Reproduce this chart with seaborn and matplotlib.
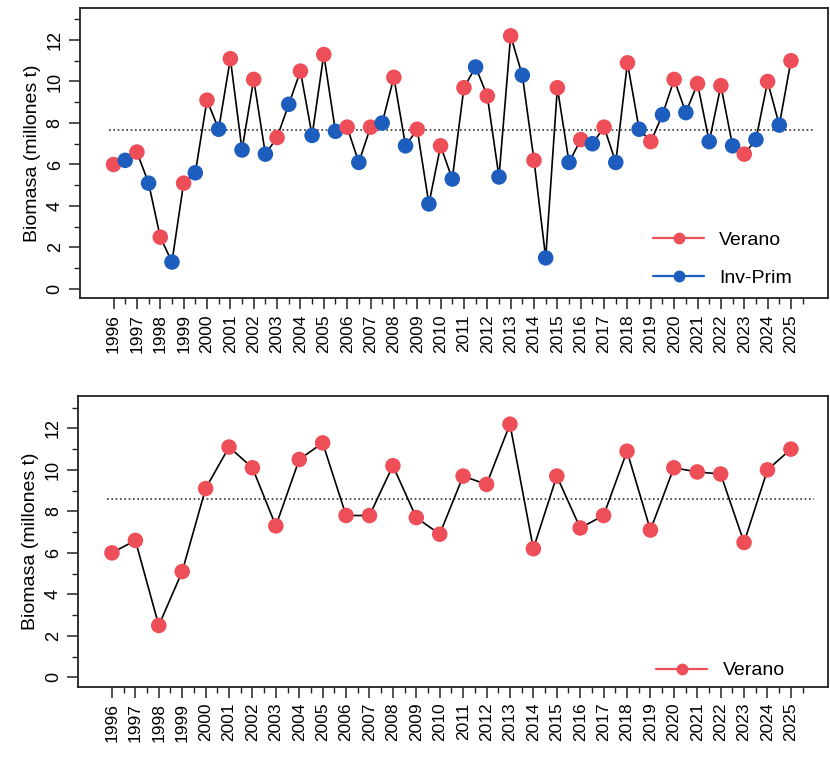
import numpy as np
import pandas as pd

import seaborn as sns
import matplotlib.pyplot as plt
from matplotlib.lines import Line2D

# biomasa por crucero (millones t)
years = list(range(1996, 2026))
verano = [6.0, 6.6, 2.5, 5.1, 9.1, 11.1, 10.1, 7.3, 10.5, 11.3,
          7.8, 7.8, 10.2, 7.7, 6.9, 9.7, 9.3, 12.2, 6.2, 9.7,
          7.2, 7.8, 10.9, 7.1, 10.1, 9.9, 9.8, 6.5, 10.0, 11.0]
# inv-prim sits half a year after each verano, 1996-2024
inv_prim = [6.2, 5.1, 1.3, 5.6, 7.7, 6.7, 6.5, 8.9, 7.4, 7.6,
            6.1, 8.0, 6.9, 4.1, 5.3, 10.7, 5.4, 10.3, 1.5, 6.1,
            7.0, 6.1, 7.7, 8.4, 8.5, 7.1, 6.9, 7.2, 7.9]

red = "#EE4E57"
blue = "#1C5DBE"

df_v = pd.DataFrame({"t": years, "b": verano, "crucero": "Verano"})
df_i = pd.DataFrame({"t": [y + 0.5 for y in years[:len(inv_prim)]], "b": inv_prim, "crucero": "Inv-Prim"})
df_all = pd.concat([df_v, df_i]).sort_values("t").reset_index(drop=True)

sns.set_style("ticks")
plt.rcParams["font.family"] = ["Liberation Sans", "DejaVu Sans"]
plt.rcParams["text.color"] = "black"
plt.rcParams["xtick.labelcolor"] = "black"
plt.rcParams["ytick.labelcolor"] = "black"
plt.rcParams["axes.labelcolor"] = "black"

fig = plt.figure(figsize=(8.3, 7.63), dpi=100)
ax1 = fig.add_axes([0.096, 0.609, 0.902, 0.381])
ax2 = fig.add_axes([0.094, 0.100, 0.904, 0.381])


def style(ax):
    ax.set_xlim(1994.55, 2026.6)
    ax.set_ylim(-0.45, 13.56)
    ax.set_xticks(years)
    ax.set_xticklabels([str(y) for y in years], rotation=90, fontsize=12.5)
    ax.set_xticks([y + 0.5 for y in years], minor=True)
    ax.set_yticks(range(0, 13, 2))
    ax.set_yticklabels([str(v) for v in range(0, 13, 2)], rotation=90, va="center", fontsize=13)
    ax.set_yticks(range(1, 14, 2), minor=True)
    ax.tick_params(which="major", direction="out", length=8, width=1.1, color="#222222")
    ax.tick_params(which="minor", direction="out", length=4, width=1.0, color="#222222")
    ax.set_ylabel("Biomasa (millones t)", fontsize=14)
    ax.set_xlabel("")
    for s in ax.spines.values():
        s.set_visible(True)
        s.set_linewidth(1.3)
        s.set_color("#222222")


# panel superior: ambos cruceros
ax1.plot(df_all["t"], df_all["b"], color="black", lw=1.2, zorder=2)
sns.scatterplot(data=df_all, x="t", y="b", hue="crucero", palette={"Verano": red, "Inv-Prim": blue},
                s=125, edgecolor="none", legend=False, ax=ax1, zorder=3)
ax1.hlines(df_all["b"].mean(), 1995.8, 2026.0, colors="#333333", linestyles=(0, (1, 1.6)), lw=1.2, zorder=1)
style(ax1)
h1 = [Line2D([], [], color=red, marker="o", markersize=7.5, lw=1.6),
      Line2D([], [], color=blue, marker="o", markersize=7.5, lw=1.6)]
ax1.legend(h1, ["Verano", "Inv-Prim"], loc="lower right", bbox_to_anchor=(0.975, -0.02), frameon=False,
           fontsize=14, handlelength=2.6, labelspacing=1.05, handletextpad=0.8)

# panel inferior: solo verano
sns.lineplot(data=df_v, x="t", y="b", color="black", lw=1.2, ax=ax2, zorder=2)
sns.scatterplot(data=df_v, x="t", y="b", color=red, s=125, edgecolor="none", ax=ax2, zorder=3)
ax2.hlines(df_v["b"].mean(), 1995.8, 2026.0, colors="#333333", linestyles=(0, (1, 1.6)), lw=1.2, zorder=1)
style(ax2)
h2 = [Line2D([], [], color=red, marker="o", markersize=7.5, lw=1.6)]
ax2.legend(h2, ["Verano"], loc="lower right", bbox_to_anchor=(0.965, -0.035), frameon=False,
           fontsize=14, handlelength=2.6, handletextpad=0.8)

fig.savefig("out.png", dpi=100)
